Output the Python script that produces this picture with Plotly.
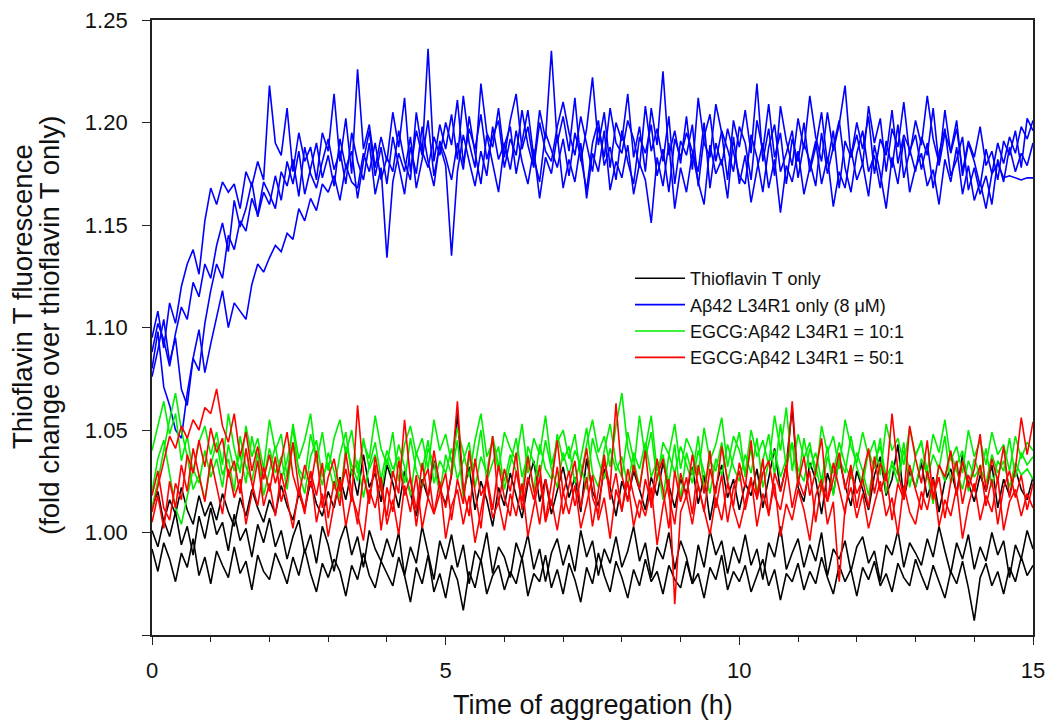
import plotly.graph_objects as go

# Sampling times (h), every 0.1 h from 0 to 15
time_h = [round(i * 0.1, 1) for i in range(151)]

# ---- Thioflavin T only (black) ----
tht_1 = [0.992, 0.981, 0.995, 0.987, 0.976, 0.990, 0.983, 0.997, 0.979, 0.988, 0.975,
         0.991, 0.984, 0.978, 0.993, 0.980, 0.986, 0.972, 0.989, 0.981, 0.977,
         0.990, 0.983, 0.975, 0.988, 0.979, 0.992, 0.980, 0.971, 0.985, 0.978,
         0.987, 0.981, 0.969, 0.984, 0.977, 0.990, 0.979, 0.973, 0.986, 0.980,
         0.974, 0.988, 0.979, 0.966, 0.983, 0.975, 0.989, 0.971, 0.980, 0.968,
         0.984, 0.977, 0.962, 0.981, 0.973, 0.987, 0.970, 0.979, 0.984, 0.972,
         0.981, 0.975, 0.988, 0.969, 0.980, 0.976, 0.989, 0.973, 0.982, 0.970,
         0.985, 0.977, 0.966, 0.983, 0.975, 0.990, 0.979, 0.971, 0.986, 0.978,
         0.968, 0.982, 0.974, 0.987, 0.976, 0.981, 0.970, 0.984, 0.977, 0.973,
         0.986, 0.975, 0.980, 0.968, 0.983, 0.977, 0.989, 0.972, 0.981, 0.976,
         0.984, 0.971, 0.979, 0.987, 0.974, 0.982, 0.967, 0.980, 0.976, 0.985,
         0.972, 0.981, 0.975, 0.988, 0.978, 0.970, 0.984, 0.976, 0.982, 0.969,
         0.983, 0.977, 0.986, 0.974, 0.980, 0.971, 0.985, 0.978, 0.974, 0.987,
         0.979, 0.972, 0.984, 0.976, 0.968, 0.981, 0.975, 0.986, 0.973, 0.957,
         0.978, 0.985, 0.974, 0.981, 0.970, 0.983, 0.976, 0.988, 0.979, 0.984]
tht_2 = [1.001, 0.993, 1.006, 0.998, 1.010, 0.994, 1.003, 0.989, 1.008, 0.997, 1.012,
         0.999, 1.005, 0.991, 1.009, 0.996, 1.002, 0.988, 1.004, 0.995, 1.007,
         0.993, 1.001, 0.987, 0.998, 1.006, 0.990, 0.999, 0.985, 1.003, 0.994,
         0.981, 0.996, 1.004, 0.989, 0.998, 0.983, 1.001, 0.992, 0.986, 0.997,
         0.988, 1.000, 0.979, 0.993, 0.985, 1.003, 0.990, 0.977, 0.996, 0.987,
         0.999, 0.983, 0.994, 0.975, 0.991, 0.986, 1.000, 0.980, 0.993, 0.988,
         0.978, 0.995, 0.987, 0.999, 0.982, 0.992, 0.976, 0.990, 0.997, 0.984,
         0.994, 0.981, 1.001, 0.988, 0.996, 0.979, 0.992, 0.985, 0.998, 0.983,
         0.991, 1.003, 0.986, 0.995, 0.978, 0.993, 0.987, 1.000, 0.982, 0.996,
         0.988, 0.975, 0.994, 0.983, 1.001, 0.989, 0.996, 0.980, 0.993, 0.985,
         0.999, 0.984, 0.992, 0.977, 0.995, 0.988, 1.003, 0.982, 0.990, 0.997,
         0.983, 0.994, 0.986, 1.000, 0.979, 0.992, 0.987, 0.996, 0.981, 0.993,
         0.998, 0.985, 0.991, 0.976, 0.994, 0.989, 1.001, 0.983, 0.995, 0.990,
         0.984, 0.997, 0.988, 1.003, 0.991, 0.980, 0.995, 0.987, 0.999, 0.982,
         0.993, 0.986, 1.000, 0.989, 0.996, 0.978, 0.994, 0.987, 1.001, 0.992]
tht_3 = [1.012, 1.020, 1.005, 1.016, 1.009, 1.022, 1.011, 1.004, 1.018, 1.008, 1.015,
         1.006, 1.019, 1.010, 1.003, 1.017, 1.008, 1.021, 1.012, 1.005, 1.016,
         1.009, 1.023, 1.013, 1.006, 1.019, 1.011, 1.025, 1.014, 1.008, 1.020,
         1.012, 1.027, 1.016, 1.031, 1.018, 1.038, 1.022, 1.029, 1.015, 1.033,
         1.024, 1.012, 1.030, 1.019, 1.008, 1.026, 1.017, 1.035, 1.021, 1.014,
         1.028, 1.058, 1.019, 1.032, 1.011, 1.025, 1.016, 1.003, 1.022, 1.013,
         1.029, 1.018, 1.007, 1.024, 1.035, 1.015, 1.026, 1.009, 1.021, 1.032,
         1.017, 1.027, 1.010, 1.036, 1.020, 1.013, 1.031, 1.022, 1.008, 1.025,
         1.016, 1.030, 1.021, 1.011, 1.027, 1.018, 1.034, 1.023, 1.012, 1.026,
         1.019, 1.032, 1.014, 1.028, 1.006, 1.022, 1.033, 1.017, 1.026, 1.011,
         1.024, 1.018, 1.031, 1.012, 1.027, 1.041, 1.020, 1.033, 1.061, 1.022,
         1.015, 1.034, 1.026, 1.009, 1.029, 1.019, 1.036, 1.023, 1.013, 1.030,
         1.021, 1.011, 1.028, 1.037, 1.018, 1.026, 1.043, 1.016, 1.030, 1.022,
         1.034, 1.017, 1.027, 1.010, 1.025, 1.031, 1.019, 1.038, 1.024, 1.015,
         1.028, 1.020, 1.033, 1.012, 1.026, 1.018, 1.031, 1.021, 1.016, 1.027]

# ---- Abeta42 L34R1 only, 8 uM (blue) ----
ab_1 = [1.095, 1.108, 1.090, 1.112, 1.102, 1.120, 1.131, 1.138, 1.126, 1.152, 1.168,
        1.160, 1.171, 1.166, 1.170, 1.158, 1.176, 1.169, 1.181, 1.172, 1.218,
        1.190, 1.184, 1.207, 1.176, 1.195, 1.181, 1.188, 1.172, 1.195, 1.186,
        1.214, 1.181, 1.202, 1.175, 1.226, 1.187, 1.199, 1.178, 1.193, 1.181,
        1.205, 1.188, 1.212, 1.176, 1.196, 1.184, 1.236, 1.181, 1.199, 1.187,
        1.204, 1.182, 1.213, 1.190, 1.178, 1.219, 1.195, 1.188, 1.207, 1.183,
        1.201, 1.214, 1.187, 1.198, 1.180, 1.206, 1.192, 1.235, 1.190, 1.203,
        1.186, 1.212, 1.181, 1.197, 1.222, 1.189, 1.205, 1.178, 1.200, 1.191,
        1.214, 1.183, 1.198, 1.176, 1.207, 1.189, 1.225, 1.184, 1.196, 1.180,
        1.203, 1.177, 1.212, 1.190, 1.183, 1.209, 1.195, 1.172, 1.201, 1.188,
        1.206, 1.185, 1.219, 1.181, 1.197, 1.174, 1.208, 1.191, 1.179, 1.202,
        1.187, 1.213, 1.193, 1.181, 1.205, 1.186, 1.199, 1.218, 1.183, 1.194,
        1.179, 1.208, 1.190, 1.202, 1.176, 1.197, 1.188, 1.210, 1.184, 1.201,
        1.189, 1.213, 1.192, 1.180, 1.206, 1.185, 1.197, 1.176, 1.191, 1.183,
        1.198, 1.179, 1.186, 1.172, 1.191, 1.184, 1.196, 1.178, 1.202, 1.196]
ab_2 = [1.080, 1.098, 1.071, 1.062, 1.050, 1.046, 1.068, 1.085, 1.079, 1.102, 1.118,
        1.131, 1.124, 1.145, 1.138, 1.152, 1.147, 1.163, 1.155, 1.171, 1.165,
        1.158, 1.176, 1.169, 1.182, 1.164, 1.188, 1.175, 1.168, 1.181, 1.192,
        1.177, 1.186, 1.170, 1.195, 1.181, 1.172, 1.190, 1.165, 1.178, 1.134,
        1.171, 1.185, 1.176, 1.193, 1.168, 1.182, 1.201, 1.174, 1.189, 1.179,
        1.135, 1.176, 1.194, 1.181, 1.169, 1.186, 1.174, 1.198, 1.182, 1.190,
        1.177, 1.196, 1.181, 1.170, 1.187, 1.163, 1.183, 1.175, 1.194, 1.168,
        1.182, 1.171, 1.190, 1.163, 1.185, 1.176, 1.196, 1.167, 1.181, 1.173,
        1.189, 1.165, 1.180, 1.172, 1.151, 1.183, 1.169, 1.190, 1.158, 1.178,
        1.166, 1.185, 1.171, 1.160, 1.189, 1.175, 1.182, 1.163, 1.193, 1.170,
        1.184, 1.161, 1.177, 1.190, 1.168, 1.182, 1.156, 1.179, 1.171, 1.186,
        1.165, 1.178, 1.191, 1.170, 1.183, 1.159, 1.176, 1.168, 1.187, 1.172,
        1.180, 1.164, 1.189, 1.175, 1.158, 1.183, 1.170, 1.192, 1.166, 1.178,
        1.185, 1.169, 1.177, 1.160, 1.182, 1.171, 1.188, 1.165, 1.179, 1.162,
        1.171, 1.158, 1.175, 1.180, 1.173, 1.174, 1.173, 1.172, 1.173, 1.173]
ab_3 = [1.076, 1.089, 1.104, 1.083, 1.095, 1.070, 1.062, 1.085, 1.099, 1.078, 1.092,
        1.105, 1.118, 1.100, 1.112, 1.108, 1.104, 1.121, 1.131, 1.127, 1.134,
        1.140, 1.137, 1.146, 1.143, 1.158, 1.152, 1.163, 1.157, 1.170, 1.166,
        1.174, 1.162, 1.179, 1.171, 1.168, 1.185, 1.176, 1.190, 1.172, 1.183,
        1.176, 1.196, 1.181, 1.172, 1.205, 1.186, 1.178, 1.193, 1.184, 1.200,
        1.189, 1.211, 1.180, 1.197, 1.187, 1.204, 1.182, 1.193, 1.201, 1.178,
        1.192, 1.184, 1.206, 1.189, 1.178, 1.200, 1.186, 1.181, 1.198, 1.210,
        1.195, 1.184, 1.203, 1.189, 1.176, 1.198, 1.183, 1.207, 1.190, 1.185,
        1.201, 1.192, 1.178, 1.208, 1.186, 1.197, 1.181, 1.203, 1.170, 1.191,
        1.184, 1.199, 1.169, 1.193, 1.204, 1.181, 1.196, 1.187, 1.176, 1.198,
        1.190, 1.172, 1.201, 1.186, 1.209, 1.183, 1.195, 1.170, 1.192, 1.181,
        1.200, 1.176, 1.188, 1.205, 1.180, 1.196, 1.168, 1.191, 1.183, 1.200,
        1.187, 1.203, 1.175, 1.192, 1.184, 1.206, 1.180, 1.194, 1.187, 1.176,
        1.193, 1.184, 1.207, 1.179, 1.195, 1.186, 1.201, 1.174, 1.190, 1.181,
        1.169, 1.187, 1.175, 1.190, 1.180, 1.193, 1.185, 1.198, 1.192, 1.201]
ab_4 = [1.088, 1.102, 1.094, 1.081, 1.097, 1.110, 1.104, 1.122, 1.115, 1.131, 1.124,
        1.140, 1.151, 1.137, 1.162, 1.149, 1.158, 1.171, 1.154, 1.166, 1.160,
        1.174, 1.162, 1.181, 1.170, 1.186, 1.165, 1.178, 1.190, 1.173, 1.184,
        1.169, 1.192, 1.178, 1.186, 1.163, 1.181, 1.196, 1.174, 1.188, 1.170,
        1.193, 1.179, 1.165, 1.188, 1.175, 1.198, 1.181, 1.169, 1.191, 1.183,
        1.172, 1.190, 1.177, 1.203, 1.185, 1.170, 1.194, 1.180, 1.166, 1.189,
        1.198, 1.175, 1.190, 1.206, 1.183, 1.171, 1.195, 1.186, 1.178, 1.192,
        1.174, 1.195, 1.183, 1.167, 1.190, 1.201, 1.179, 1.188, 1.172, 1.196,
        1.181, 1.170, 1.193, 1.185, 1.199, 1.174, 1.187, 1.166, 1.192, 1.183,
        1.195, 1.186, 1.176, 1.200, 1.168, 1.190, 1.179, 1.197, 1.185, 1.174,
        1.170, 1.194, 1.183, 1.166, 1.188, 1.199, 1.176, 1.185, 1.196, 1.173,
        1.190, 1.181, 1.169, 1.195, 1.175, 1.188, 1.201, 1.178, 1.166, 1.185,
        1.196, 1.176, 1.184, 1.168, 1.191, 1.178, 1.199, 1.173, 1.186, 1.194,
        1.177, 1.190, 1.168, 1.185, 1.197, 1.174, 1.182, 1.193, 1.167, 1.178,
        1.165, 1.174, 1.160, 1.182, 1.171, 1.188, 1.176, 1.185, 1.179, 1.190]

# ---- EGCG : Abeta42 L34R1 = 10:1 (green) ----
egcg10_1 = [1.040, 1.052, 1.064, 1.048, 1.058, 1.035, 1.047, 1.029, 1.044, 1.052, 1.038,
            1.049, 1.033, 1.058, 1.041, 1.029, 1.052, 1.037, 1.046, 1.031, 1.055,
            1.040, 1.048, 1.027, 1.053, 1.036, 1.045, 1.058, 1.034, 1.049, 1.030,
            1.046, 1.055, 1.038, 1.050, 1.029, 1.044, 1.036, 1.057, 1.041, 1.033,
            1.049, 1.025, 1.043, 1.052, 1.038, 1.046, 1.031, 1.055, 1.040, 1.048,
            1.034, 1.051, 1.039, 1.027, 1.045, 1.058, 1.037, 1.044, 1.030, 1.049,
            1.041, 1.035, 1.053, 1.029, 1.046, 1.038, 1.057, 1.033, 1.044, 1.050,
            1.036, 1.048, 1.027, 1.043, 1.055, 1.039, 1.047, 1.032, 1.052, 1.068,
            1.041, 1.030, 1.057, 1.036, 1.049, 1.025, 1.044, 1.038, 1.053, 1.031,
            1.046, 1.039, 1.028, 1.051, 1.035, 1.043, 1.056, 1.032, 1.047, 1.040,
            1.029, 1.050, 1.037, 1.045, 1.033, 1.057, 1.040, 1.061, 1.030, 1.048,
            1.036, 1.044, 1.027, 1.052, 1.039, 1.047, 1.031, 1.055, 1.042, 1.034,
            1.049, 1.037, 1.045, 1.028, 1.053, 1.040, 1.046, 1.033, 1.051, 1.038,
            1.044, 1.030, 1.048, 1.039, 1.055, 1.035, 1.042, 1.029, 1.050, 1.037,
            1.045, 1.033, 1.049, 1.038, 1.043, 1.030, 1.047, 1.036, 1.044, 1.040]
egcg10_2 = [1.020, 1.036, 1.045, 1.029, 1.012, 1.004, 1.018, 1.031, 1.024, 1.040, 1.027,
            1.036, 1.022, 1.043, 1.030, 1.038, 1.024, 1.047, 1.033, 1.026, 1.041,
            1.029, 1.037, 1.021, 1.044, 1.031, 1.026, 1.048, 1.035, 1.023, 1.039,
            1.030, 1.016, 1.042, 1.033, 1.025, 1.046, 1.031, 1.038, 1.020, 1.036,
            1.027, 1.043, 1.032, 1.018, 1.039, 1.030, 1.045, 1.024, 1.035, 1.029,
            1.041, 1.026, 1.035, 1.044, 1.022, 1.037, 1.029, 1.047, 1.033, 1.025,
            1.038, 1.030, 1.019, 1.042, 1.034, 1.027, 1.045, 1.031, 1.022, 1.039,
            1.028, 1.040, 1.033, 1.021, 1.046, 1.035, 1.026, 1.041, 1.030, 1.037,
            1.023, 1.039, 1.031, 1.044, 1.027, 1.035, 1.016, 1.038, 1.029, 1.042,
            1.033, 1.024, 1.040, 1.030, 1.019, 1.036, 1.028, 1.043, 1.032, 1.025,
            1.038, 1.029, 1.046, 1.022, 1.034, 1.040, 1.027, 1.036, 1.044, 1.031,
            1.025, 1.041, 1.032, 1.020, 1.037, 1.029, 1.044, 1.033, 1.026, 1.039,
            1.030, 1.018, 1.035, 1.042, 1.027, 1.033, 1.024, 1.040, 1.031, 1.022,
            1.036, 1.028, 1.014, 1.033, 1.025, 1.039, 1.030, 1.021, 1.035, 1.027,
            1.032, 1.024, 1.038, 1.029, 1.035, 1.022, 1.034, 1.028, 1.031, 1.026]
egcg10_3 = [1.012, 1.025, 1.040, 1.055, 1.068, 1.050, 1.037, 1.021, 1.028, 1.016, 1.033,
            1.044, 1.028, 1.036, 1.020, 1.047, 1.032, 1.025, 1.039, 1.018, 1.030,
            1.042, 1.026, 1.035, 1.051, 1.029, 1.019, 1.037, 1.045, 1.027, 1.034,
            1.021, 1.038, 1.049, 1.028, 1.035, 1.017, 1.033, 1.044, 1.026, 1.040,
            1.031, 1.037, 1.024, 1.046, 1.030, 1.022, 1.041, 1.034, 1.019, 1.038,
            1.028, 1.045, 1.017, 1.036, 1.032, 1.050, 1.025, 1.034, 1.042, 1.021,
            1.033, 1.046, 1.027, 1.038, 1.020, 1.043, 1.031, 1.026, 1.048, 1.035,
            1.042, 1.024, 1.036, 1.051, 1.029, 1.022, 1.040, 1.053, 1.034, 1.027,
            1.049, 1.035, 1.022, 1.041, 1.057, 1.030, 1.038, 1.024, 1.043, 1.016,
            1.039, 1.028, 1.047, 1.021, 1.035, 1.030, 1.044, 1.025, 1.037, 1.049,
            1.027, 1.041, 1.019, 1.035, 1.048, 1.028, 1.053, 1.032, 1.043, 1.024,
            1.046, 1.031, 1.039, 1.025, 1.042, 1.018, 1.036, 1.029, 1.047, 1.032,
            1.023, 1.040, 1.031, 1.046, 1.019, 1.035, 1.028, 1.044, 1.022, 1.037,
            1.045, 1.026, 1.038, 1.031, 1.047, 1.024, 1.033, 1.040, 1.020, 1.036,
            1.028, 1.041, 1.022, 1.035, 1.030, 1.046, 1.027, 1.039, 1.033, 1.037]

# ---- EGCG : Abeta42 L34R1 = 50:1 (red) ----
egcg50_1 = [1.010, 1.022, 1.035, 1.047, 1.041, 1.052, 1.046, 1.055, 1.050, 1.061, 1.058,
            1.070, 1.052, 1.044, 1.058, 1.037, 1.049, 1.030, 1.042, 1.026, 1.038,
            1.024, 1.035, 1.049, 1.028, 1.018, 1.033, 1.022, 1.040, 1.012, 1.027,
            1.036, 1.020, 1.031, 1.015, 1.062, 1.029, 1.014, 1.037, 1.021, 1.008,
            1.030, 1.019, 1.055, 1.026, 1.011, 1.034, 1.017, 1.040, 1.023, 1.012,
            1.029, 1.064, 1.021, 1.008, 1.036, 1.018, 1.025, 1.047, 1.014, 1.031,
            1.020, 1.039, 1.011, 1.027, 1.016, 1.033, 1.006, 1.024, 1.045, 1.019,
            1.030, 1.013, 1.026, 1.041, 1.017, 1.009, 1.035, 1.022, 1.063, 1.028,
            1.015, 1.033, 1.021, 1.040, 1.012, 1.027, 1.036, 1.018, 1.004, 1.029,
            1.017, 1.038, 1.023, 1.010, 1.031, 1.019, 1.042, 1.025, 1.013, 1.034,
            1.022, 1.045, 1.016, 1.029, 1.035, 1.018, 1.011, 1.027, 1.064, 1.024,
            1.037, 1.018, 1.030, 1.046, 1.015, 1.026, 1.039, 1.021, 1.033, 1.012,
            1.028, 1.041, 1.019, 1.034, 1.025, 1.058, 1.030, 1.017, 1.052, 1.036,
            1.024, 1.045, 1.016, 1.033, 1.027, 1.040, 1.018, 1.035, 1.022, 1.031,
            1.048, 1.020, 1.036, 1.025, 1.042, 1.017, 1.031, 1.056, 1.038, 1.054]
egcg50_2 = [1.005, 1.018, 1.002, 1.025, 1.012, 1.033, 1.020, 1.041, 1.028, 1.015, 1.036,
            1.022, 1.009, 1.031, 1.017, 1.026, 1.004, 1.019, 1.035, 1.013, 1.024,
            1.008, 1.029, 1.016, 1.002, 1.022, 1.011, 1.030, 1.005, 1.019, 0.998,
            1.014, 1.026, 1.003, 1.018, 1.009, 0.996, 1.021, 1.012, 1.027, 1.004,
            1.016, 0.999, 1.023, 1.010, 1.028, 1.002, 1.017, 1.009, 1.025, 0.997,
            1.013, 1.021, 1.004, 1.018, 0.995, 1.011, 1.026, 1.007, 1.015, 1.001,
            1.019, 1.008, 1.024, 0.998, 1.012, 1.027, 1.005, 1.016, 1.001, 1.020,
            1.009, 1.023, 1.002, 1.014, 1.028, 1.006, 1.017, 0.997, 1.021, 1.011,
            1.025, 1.003, 1.016, 1.008, 1.022, 0.994, 1.013, 1.026, 0.965, 1.010,
            1.018, 1.004, 1.023, 1.011, 0.999, 1.017, 1.006, 1.024, 1.012, 1.002,
            1.015, 1.027, 1.003, 1.019, 1.009, 1.024, 0.998, 1.014, 1.006, 1.021,
            1.011, 0.996, 1.018, 1.026, 1.004, 1.015, 0.976, 1.012, 1.022, 1.007,
            1.019, 1.002, 1.014, 1.025, 1.008, 1.017, 0.999, 1.023, 1.010, 1.004,
            1.020, 1.011, 1.026, 1.003, 1.016, 1.008, 1.022, 0.997, 1.013, 1.024,
            1.006, 1.018, 1.010, 1.027, 1.001, 1.015, 1.021, 1.008, 1.019, 1.012]
egcg50_3 = [1.018, 1.030, 1.012, 1.006, 1.024, 1.016, 1.038, 1.029, 1.045, 1.032, 1.051,
            1.039, 1.046, 1.027, 1.035, 1.019, 1.041, 1.024, 1.013, 1.032, 1.020,
            1.037, 1.015, 1.026, 1.044, 1.021, 1.009, 1.030, 1.018, 1.034, 1.007,
            1.025, 1.013, 1.039, 1.020, 1.004, 1.028, 1.016, 1.033, 1.001, 1.022,
            1.010, 1.035, 1.018, 1.027, 1.003, 1.024, 1.031, 1.009, 1.019, 1.029,
            1.006, 1.026, 1.014, 1.040, 1.020, 1.002, 1.028, 1.011, 1.033, 1.017,
            1.008, 1.030, 1.015, 1.037, 1.021, 1.004, 1.026, 1.013, 1.032, 1.009,
            1.023, 1.035, 1.012, 1.027, 1.003, 1.020, 1.038, 1.016, 1.029, 1.010,
            1.031, 1.018, 1.007, 1.026, 1.014, 1.036, 1.021, 1.002, 1.030, 1.015,
            1.027, 1.009, 1.033, 1.019, 1.040, 1.012, 1.028, 1.005, 1.022, 1.030,
            1.011, 1.025, 1.017, 1.036, 1.008, 1.029, 1.020, 1.033, 1.012, 1.026,
            1.018, 1.030, 1.005, 1.024, 1.015, 1.034, 1.022, 1.009, 1.031, 1.019,
            1.026, 1.012, 1.037, 1.020, 1.029, 1.006, 1.024, 1.016, 1.033, 1.021,
            1.011, 1.030, 1.018, 1.027, 1.007, 1.025, 1.035, 1.014, 1.028, 1.020,
            1.033, 1.013, 1.026, 1.004, 1.022, 1.030, 1.017, 1.028, 1.011, 1.024]

series_names = ["Thioflavin T only",
                "Aβ42 L34R1 only (8 μM)",
                "EGCG:Aβ42 L34R1 = 10:1",
                "EGCG:Aβ42 L34R1 = 50:1"]
series_colors = ["#000000", "#0000ff", "#00ee00", "#ff0000"]
series_runs = [[tht_1, tht_2, tht_3],
               [ab_1, ab_2, ab_3, ab_4],
               [egcg10_1, egcg10_2, egcg10_3],
               [egcg50_1, egcg50_2, egcg50_3]]

y_tick_vals = [0.95, 1.00, 1.05, 1.10, 1.15, 1.20, 1.25]
y_tick_text = ["", "1.00", "1.05", "1.10", "1.15", "1.20", "1.25"]
x_tick_vals = [0, 5, 10, 15]

FONT = "Liberation Sans, Arial, sans-serif"

fig = go.Figure()
for name, color, runs in zip(series_names, series_colors, series_runs):
    for i, run in enumerate(runs):
        fig.add_trace(go.Scatter(
            x=time_h, y=run, mode="lines", name=name, legendgroup=name,
            showlegend=(i == 0), line=dict(color=color, width=1.6)))

W, H = 1049, 727
ML, MR, MT, MB = 152, 16, 20, 92
PW, PH = W - ML - MR, H - MT - MB

def px_x(px):
    return (px - ML) / PW

def px_y(py):
    return (H - MB - py) / PH

fig.update_layout(
    width=W, height=H,
    margin=dict(l=ML, r=MR, t=MT, b=MB, autoexpand=False),
    paper_bgcolor="white", plot_bgcolor="white",
    font=dict(family=FONT, color="#111111"),
    showlegend=True,
    legend=dict(x=px_x(630), y=px_y(260), xanchor="left", yanchor="top",
                bgcolor="rgba(0,0,0,0)", font=dict(size=18, family=FONT),
                itemwidth=50, tracegroupgap=0),
    xaxis=dict(range=[0, 15], tickvals=x_tick_vals, ticks="outside", ticklen=8,
               tickwidth=1.2, tickcolor="#222", showline=True, linecolor="#222",
               linewidth=1.8, mirror=True, showgrid=False, zeroline=False,
               automargin=False, ticklabeloverflow="allow",
               tickfont=dict(size=22, family=FONT), ticklabelstandoff=7,
               minor=dict(dtick=1, ticks="outside", ticklen=5, tickcolor="#222",
                          tickwidth=1, showgrid=False)),
    yaxis=dict(range=[0.95, 1.25], tickvals=y_tick_vals, ticktext=y_tick_text,
               ticks="outside", ticklen=8, tickwidth=1.2, tickcolor="#222",
               showline=True, linecolor="#222", linewidth=1.8, mirror=True,
               showgrid=False, zeroline=False, automargin=False,
               ticklabeloverflow="allow",
               tickfont=dict(size=22, family=FONT), ticklabelstandoff=10),
    annotations=[
        dict(text="Time of aggregation (h)", xref="paper", yref="paper",
             x=0.5, y=px_y(705), xanchor="center", yanchor="middle",
             showarrow=False, font=dict(size=27, family=FONT)),
        dict(text="Thioflavin T fluorescence", xref="paper", yref="paper",
             x=px_x(22), y=px_y(297), xanchor="center", yanchor="middle",
             textangle=-90, showarrow=False, font=dict(size=27.5, family=FONT)),
        dict(text="(fold change over thioflavin T only)", xref="paper", yref="paper",
             x=px_x(49), y=px_y(326), xanchor="center", yanchor="middle",
             textangle=-90, showarrow=False, font=dict(size=27.5, family=FONT)),
    ],
)

# remove the default page margin so the figure sits at the window's top-left
fig.write_html("out.html",
               config={"displayModeBar": False},
               post_script="document.body.style.margin='0';"
                           "document.body.style.overflow='hidden';")
